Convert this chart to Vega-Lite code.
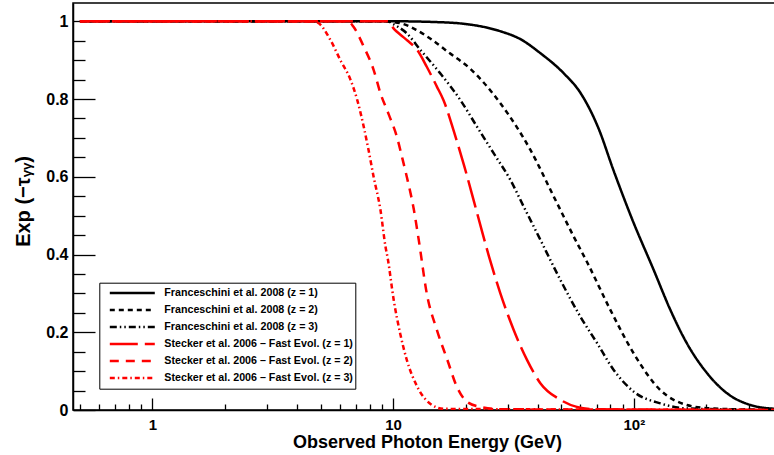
{
  "$schema": "https://vega.github.io/schema/vega-lite/v6.json",
  "width": 702,
  "height": 407,
  "autosize": {"type": "none"},
  "padding": {"left": 73, "top": 3, "right": 0, "bottom": 45},
  "background": "white",
  "config": {
    "view": {"stroke": "black", "strokeWidth": 1.5},
    "axis": {
      "grid": false,
      "domainColor": "black",
      "domainWidth": 1.5,
      "tickColor": "black",
      "tickWidth": 1.3,
      "labelFont": "Liberation Sans",
      "labelFontWeight": "bold",
      "labelFontSize": 15,
      "labelColor": "black",
      "titleFont": "Liberation Sans",
      "titleFontWeight": "bold",
      "titleColor": "black",
      "labelOverlap": false,
      "labelFlush": false
    },
    "legend": {
      "orient": "none",
      "legendX": 26.3,
      "legendY": 279.7,
      "title": null,
      "padding": 2,
      "strokeColor": "black",
      "fillColor": "white",
      "symbolType": "stroke",
      "symbolSize": 2025,
      "symbolStrokeWidth": 2.5,
      "symbolOffset": 7,
      "labelOffset": 8,
      "clipHeight": 16.6,
      "rowPadding": 0,
      "labelFont": "Liberation Sans",
      "labelFontWeight": "bold",
      "labelFontSize": 10.7,
      "labelColor": "black",
      "labelLimit": 400
    }
  },
  "data": {
    "values": [
      {"s": "Franceschini et al. 2008  (z = 1)", "e": 0.5, "v": 1},
      {"s": "Franceschini et al. 2008  (z = 1)", "e": 10, "v": 1},
      {"s": "Franceschini et al. 2008  (z = 1)", "e": 15, "v": 0.998},
      {"s": "Franceschini et al. 2008  (z = 1)", "e": 20, "v": 0.993},
      {"s": "Franceschini et al. 2008  (z = 1)", "e": 24, "v": 0.985},
      {"s": "Franceschini et al. 2008  (z = 1)", "e": 28, "v": 0.974},
      {"s": "Franceschini et al. 2008  (z = 1)", "e": 33.8, "v": 0.954},
      {"s": "Franceschini et al. 2008  (z = 1)", "e": 40.9, "v": 0.918},
      {"s": "Franceschini et al. 2008  (z = 1)", "e": 51, "v": 0.867},
      {"s": "Franceschini et al. 2008  (z = 1)", "e": 60, "v": 0.816},
      {"s": "Franceschini et al. 2008  (z = 1)", "e": 71.3, "v": 0.725},
      {"s": "Franceschini et al. 2008  (z = 1)", "e": 82.3, "v": 0.617},
      {"s": "Franceschini et al. 2008  (z = 1)", "e": 98.7, "v": 0.489},
      {"s": "Franceschini et al. 2008  (z = 1)", "e": 121, "v": 0.36},
      {"s": "Franceschini et al. 2008  (z = 1)", "e": 142, "v": 0.257},
      {"s": "Franceschini et al. 2008  (z = 1)", "e": 166, "v": 0.172},
      {"s": "Franceschini et al. 2008  (z = 1)", "e": 202, "v": 0.094},
      {"s": "Franceschini et al. 2008  (z = 1)", "e": 244, "v": 0.043},
      {"s": "Franceschini et al. 2008  (z = 1)", "e": 305, "v": 0.013},
      {"s": "Franceschini et al. 2008  (z = 1)", "e": 386, "v": 0.003},

      {"s": "Franceschini et al. 2008  (z = 2)", "e": 0.5, "v": 1},
      {"s": "Franceschini et al. 2008  (z = 2)", "e": 9, "v": 1},
      {"s": "Franceschini et al. 2008  (z = 2)", "e": 10.7, "v": 0.995},
      {"s": "Franceschini et al. 2008  (z = 2)", "e": 12.3, "v": 0.98},
      {"s": "Franceschini et al. 2008  (z = 2)", "e": 14.3, "v": 0.955},
      {"s": "Franceschini et al. 2008  (z = 2)", "e": 17, "v": 0.92},
      {"s": "Franceschini et al. 2008  (z = 2)", "e": 20.9, "v": 0.878},
      {"s": "Franceschini et al. 2008  (z = 2)", "e": 27.9, "v": 0.789},
      {"s": "Franceschini et al. 2008  (z = 2)", "e": 37.2, "v": 0.669},
      {"s": "Franceschini et al. 2008  (z = 2)", "e": 46.5, "v": 0.549},
      {"s": "Franceschini et al. 2008  (z = 2)", "e": 56.3, "v": 0.446},
      {"s": "Franceschini et al. 2008  (z = 2)", "e": 64, "v": 0.38},
      {"s": "Franceschini et al. 2008  (z = 2)", "e": 80, "v": 0.257},
      {"s": "Franceschini et al. 2008  (z = 2)", "e": 99.8, "v": 0.146},
      {"s": "Franceschini et al. 2008  (z = 2)", "e": 129, "v": 0.051},
      {"s": "Franceschini et al. 2008  (z = 2)", "e": 166, "v": 0.013},
      {"s": "Franceschini et al. 2008  (z = 2)", "e": 210, "v": 0.004},
      {"s": "Franceschini et al. 2008  (z = 2)", "e": 386, "v": 0},

      {"s": "Franceschini et al. 2008  (z = 3)", "e": 0.5, "v": 1},
      {"s": "Franceschini et al. 2008  (z = 3)", "e": 9.5, "v": 1},
      {"s": "Franceschini et al. 2008  (z = 3)", "e": 10, "v": 0.993},
      {"s": "Franceschini et al. 2008  (z = 3)", "e": 11.4, "v": 0.969},
      {"s": "Franceschini et al. 2008  (z = 3)", "e": 13, "v": 0.926},
      {"s": "Franceschini et al. 2008  (z = 3)", "e": 15.7, "v": 0.866},
      {"s": "Franceschini et al. 2008  (z = 3)", "e": 19, "v": 0.798},
      {"s": "Franceschini et al. 2008  (z = 3)", "e": 22.3, "v": 0.729},
      {"s": "Franceschini et al. 2008  (z = 3)", "e": 26.2, "v": 0.66},
      {"s": "Franceschini et al. 2008  (z = 3)", "e": 30.7, "v": 0.592},
      {"s": "Franceschini et al. 2008  (z = 3)", "e": 34.9, "v": 0.523},
      {"s": "Franceschini et al. 2008  (z = 3)", "e": 40.3, "v": 0.446},
      {"s": "Franceschini et al. 2008  (z = 3)", "e": 49.6, "v": 0.334},
      {"s": "Franceschini et al. 2008  (z = 3)", "e": 60, "v": 0.24},
      {"s": "Franceschini et al. 2008  (z = 3)", "e": 70.4, "v": 0.172},
      {"s": "Franceschini et al. 2008  (z = 3)", "e": 82.5, "v": 0.103},
      {"s": "Franceschini et al. 2008  (z = 3)", "e": 100, "v": 0.047},
      {"s": "Franceschini et al. 2008  (z = 3)", "e": 129, "v": 0.017},
      {"s": "Franceschini et al. 2008  (z = 3)", "e": 166, "v": 0.004},
      {"s": "Franceschini et al. 2008  (z = 3)", "e": 386, "v": 0},

      {"s": "Stecker et al. 2006 – Fast Evol. (z = 1)", "e": 0.5, "v": 1},
      {"s": "Stecker et al. 2006 – Fast Evol. (z = 1)", "e": 9.5, "v": 1},
      {"s": "Stecker et al. 2006 – Fast Evol. (z = 1)", "e": 10.1, "v": 0.98},
      {"s": "Stecker et al. 2006 – Fast Evol. (z = 1)", "e": 10.7, "v": 0.966},
      {"s": "Stecker et al. 2006 – Fast Evol. (z = 1)", "e": 11.5, "v": 0.95},
      {"s": "Stecker et al. 2006 – Fast Evol. (z = 1)", "e": 12.6, "v": 0.926},
      {"s": "Stecker et al. 2006 – Fast Evol. (z = 1)", "e": 13.8, "v": 0.883},
      {"s": "Stecker et al. 2006 – Fast Evol. (z = 1)", "e": 15.2, "v": 0.832},
      {"s": "Stecker et al. 2006 – Fast Evol. (z = 1)", "e": 16.2, "v": 0.797},
      {"s": "Stecker et al. 2006 – Fast Evol. (z = 1)", "e": 17.9, "v": 0.716},
      {"s": "Stecker et al. 2006 – Fast Evol. (z = 1)", "e": 19.7, "v": 0.63},
      {"s": "Stecker et al. 2006 – Fast Evol. (z = 1)", "e": 21.6, "v": 0.54},
      {"s": "Stecker et al. 2006 – Fast Evol. (z = 1)", "e": 23.4, "v": 0.46},
      {"s": "Stecker et al. 2006 – Fast Evol. (z = 1)", "e": 25, "v": 0.396},
      {"s": "Stecker et al. 2006 – Fast Evol. (z = 1)", "e": 27.9, "v": 0.3},
      {"s": "Stecker et al. 2006 – Fast Evol. (z = 1)", "e": 31.7, "v": 0.206},
      {"s": "Stecker et al. 2006 – Fast Evol. (z = 1)", "e": 36, "v": 0.129},
      {"s": "Stecker et al. 2006 – Fast Evol. (z = 1)", "e": 40.9, "v": 0.069},
      {"s": "Stecker et al. 2006 – Fast Evol. (z = 1)", "e": 49.6, "v": 0.026},
      {"s": "Stecker et al. 2006 – Fast Evol. (z = 1)", "e": 58, "v": 0.008},
      {"s": "Stecker et al. 2006 – Fast Evol. (z = 1)", "e": 70, "v": 0.002},
      {"s": "Stecker et al. 2006 – Fast Evol. (z = 1)", "e": 386, "v": 0},

      {"s": "Stecker et al. 2006 – Fast Evol. (z = 2)", "e": 0.5, "v": 1},
      {"s": "Stecker et al. 2006 – Fast Evol. (z = 2)", "e": 6.5, "v": 1},
      {"s": "Stecker et al. 2006 – Fast Evol. (z = 2)", "e": 6.86, "v": 0.985},
      {"s": "Stecker et al. 2006 – Fast Evol. (z = 2)", "e": 7.55, "v": 0.935},
      {"s": "Stecker et al. 2006 – Fast Evol. (z = 2)", "e": 8.3, "v": 0.875},
      {"s": "Stecker et al. 2006 – Fast Evol. (z = 2)", "e": 8.86, "v": 0.815},
      {"s": "Stecker et al. 2006 – Fast Evol. (z = 2)", "e": 9.6, "v": 0.76},
      {"s": "Stecker et al. 2006 – Fast Evol. (z = 2)", "e": 10.4, "v": 0.7},
      {"s": "Stecker et al. 2006 – Fast Evol. (z = 2)", "e": 10.9, "v": 0.65},
      {"s": "Stecker et al. 2006 – Fast Evol. (z = 2)", "e": 11.4, "v": 0.6},
      {"s": "Stecker et al. 2006 – Fast Evol. (z = 2)", "e": 12.2, "v": 0.515},
      {"s": "Stecker et al. 2006 – Fast Evol. (z = 2)", "e": 12.8, "v": 0.435},
      {"s": "Stecker et al. 2006 – Fast Evol. (z = 2)", "e": 13.8, "v": 0.3},
      {"s": "Stecker et al. 2006 – Fast Evol. (z = 2)", "e": 15.2, "v": 0.206},
      {"s": "Stecker et al. 2006 – Fast Evol. (z = 2)", "e": 16.8, "v": 0.129},
      {"s": "Stecker et al. 2006 – Fast Evol. (z = 2)", "e": 18.4, "v": 0.06},
      {"s": "Stecker et al. 2006 – Fast Evol. (z = 2)", "e": 20.3, "v": 0.021},
      {"s": "Stecker et al. 2006 – Fast Evol. (z = 2)", "e": 23, "v": 0.008},
      {"s": "Stecker et al. 2006 – Fast Evol. (z = 2)", "e": 28, "v": 0.002},
      {"s": "Stecker et al. 2006 – Fast Evol. (z = 2)", "e": 386, "v": 0},

      {"s": "Stecker et al. 2006 – Fast Evol. (z = 3)", "e": 0.5, "v": 1},
      {"s": "Stecker et al. 2006 – Fast Evol. (z = 3)", "e": 4.7, "v": 1},
      {"s": "Stecker et al. 2006 – Fast Evol. (z = 3)", "e": 4.91, "v": 0.995},
      {"s": "Stecker et al. 2006 – Fast Evol. (z = 3)", "e": 5.49, "v": 0.952},
      {"s": "Stecker et al. 2006 – Fast Evol. (z = 3)", "e": 6.04, "v": 0.9},
      {"s": "Stecker et al. 2006 – Fast Evol. (z = 3)", "e": 6.65, "v": 0.85},
      {"s": "Stecker et al. 2006 – Fast Evol. (z = 3)", "e": 7.1, "v": 0.797},
      {"s": "Stecker et al. 2006 – Fast Evol. (z = 3)", "e": 7.55, "v": 0.729},
      {"s": "Stecker et al. 2006 – Fast Evol. (z = 3)", "e": 7.9, "v": 0.67},
      {"s": "Stecker et al. 2006 – Fast Evol. (z = 3)", "e": 8.3, "v": 0.6},
      {"s": "Stecker et al. 2006 – Fast Evol. (z = 3)", "e": 8.86, "v": 0.515},
      {"s": "Stecker et al. 2006 – Fast Evol. (z = 3)", "e": 9.3, "v": 0.42},
      {"s": "Stecker et al. 2006 – Fast Evol. (z = 3)", "e": 9.5, "v": 0.39},
      {"s": "Stecker et al. 2006 – Fast Evol. (z = 3)", "e": 10.06, "v": 0.283},
      {"s": "Stecker et al. 2006 – Fast Evol. (z = 3)", "e": 10.7, "v": 0.197},
      {"s": "Stecker et al. 2006 – Fast Evol. (z = 3)", "e": 11.4, "v": 0.129},
      {"s": "Stecker et al. 2006 – Fast Evol. (z = 3)", "e": 12.6, "v": 0.06},
      {"s": "Stecker et al. 2006 – Fast Evol. (z = 3)", "e": 14.5, "v": 0.013},
      {"s": "Stecker et al. 2006 – Fast Evol. (z = 3)", "e": 16.2, "v": 0.003},
      {"s": "Stecker et al. 2006 – Fast Evol. (z = 3)", "e": 386, "v": 0}
    ]
  },
  "mark": {"type": "line", "strokeWidth": 2.5, "interpolate": "monotone", "clip": true},
  "encoding": {
    "x": {
      "field": "e",
      "type": "quantitative",
      "scale": {"type": "log", "domain": [0.468, 386], "nice": false},
      "axis": {
        "values": [0.5, 0.6, 0.7, 0.8, 0.9, 1, 2, 3, 4, 5, 6, 7, 8, 9, 10, 20, 30, 40, 50, 60, 70, 80, 90, 100, 200, 300],
        "labelExpr": "datum.value == 1 ? '1' : datum.value == 10 ? '10' : datum.value == 100 ? '10²' : ''",
        "tickSize": {"condition": {"test": "datum.value == 1 || datum.value == 10 || datum.value == 100", "value": -12}, "value": -6},
        "labelPadding": 19.5,
        "title": "Observed Photon Energy (GeV)",
        "titleFontSize": 18,
        "titleBaseline": "alphabetic",
        "titleY": 37,
        "titleX": 354
      }
    },
    "y": {
      "field": "v",
      "type": "quantitative",
      "scale": {"domain": [0, 1.047], "nice": false},
      "axis": {
        "values": [0, 0.05, 0.1, 0.15, 0.2, 0.25, 0.3, 0.35, 0.4, 0.45, 0.5, 0.55, 0.6, 0.65, 0.7, 0.75, 0.8, 0.85, 0.9, 0.95, 1],
        "labelExpr": "round(datum.value * 100) % 20 == 0 ? format(datum.value, '~g') : ''",
        "tickSize": {"condition": {"test": "round(datum.value * 100) % 20 == 0", "value": -22}, "value": -12},
        "labelPadding": 27,
        "labelFontSize": 16,
        "title": "Exp (−τᵧᵧ)",
        "titleFontSize": 20,
        "titleBaseline": "alphabetic",
        "titleAngle": -90,
        "titleAlign": "center",
        "titleX": -43.7,
        "titleY": 198
      }
    },
    "color": {
      "field": "s",
      "type": "nominal",
      "scale": {
        "domain": ["Franceschini et al. 2008  (z = 1)", "Franceschini et al. 2008  (z = 2)", "Franceschini et al. 2008  (z = 3)", "Stecker et al. 2006 – Fast Evol. (z = 1)", "Stecker et al. 2006 – Fast Evol. (z = 2)", "Stecker et al. 2006 – Fast Evol. (z = 3)"],
        "range": ["#000000", "#000000", "#000000", "#ff0000", "#ff0000", "#ff0000"]
      }
    },
    "strokeDash": {
      "field": "s",
      "type": "nominal",
      "scale": {
        "domain": ["Franceschini et al. 2008  (z = 1)", "Franceschini et al. 2008  (z = 2)", "Franceschini et al. 2008  (z = 3)", "Stecker et al. 2006 – Fast Evol. (z = 1)", "Stecker et al. 2006 – Fast Evol. (z = 2)", "Stecker et al. 2006 – Fast Evol. (z = 3)"],
        "range": [[1, 0], [5, 4], [7, 3, 1.5, 3, 1.5, 3], [28, 7], [9, 7], [5, 3, 1.5, 3]]
      }
    }
  }
}
